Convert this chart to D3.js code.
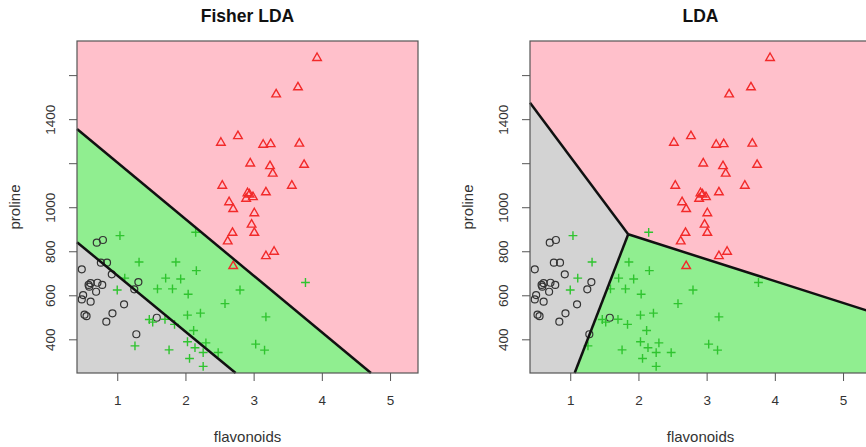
<!DOCTYPE html>
<html>
<head>
<meta charset="utf-8">
<script src="https://cdn.jsdelivr.net/npm/d3@7"></script>
<style>
  body { margin: 0; background: #fff; }
  text { font-family: "Liberation Sans", Arial, sans-serif; }
</style>
</head>
<body>
<div id="chart"></div>
<script>
// wine data: [flavonoids, proline]
var class1 = [[3.93,1680],[3.65,1547],[3.33,1515],[2.77,1325],[2.52,1295],[3.14,1286],[3.25,1289],
  [3.67,1291],[2.95,1201],[3.24,1189],[3.74,1195],[3.28,1155],[2.54,1100],[3.56,1100],[3.18,1070],
  [2.91,1066],[2.89,1041],[2.99,1048],[2.94,1060],[2.64,1025],[2.70,994],[3.01,975],[2.97,923],
  [3.01,886],[2.69,886],[2.62,847],[3.18,780],[3.30,800],[2.70,735]];
var class2 = [[1.04,871],[2.15,886],[1.32,751],[1.86,751],[2.16,712],[1.11,678],[1.71,678],[1.93,674],
  [1.00,624],[1.59,629],[1.81,629],[2.04,605],[2.58,562],[2.80,624],[3.76,658],[2.03,510],[2.22,519],
  [3.18,502],[1.47,490],[1.52,478],[1.70,491],[1.84,468],[2.12,440],[2.03,389],[2.14,362],[2.30,384],
  [2.26,340],[2.48,340],[1.26,370],[1.76,352],[3.03,378],[3.16,351],[2.06,313],[2.26,277]];
var class3 = [[0.70,839],[0.79,851],[0.76,748],[0.85,748],[0.48,718],[0.92,695],[1.31,660],[1.25,627],
  [0.58,647],[0.61,655],[0.71,657],[0.78,647],[0.59,639],[0.69,616],[0.50,601],[0.48,581],[0.61,571],
  [1.10,559],[0.93,518],[0.52,512],[0.55,505],[0.84,480],[1.58,498],[1.28,423]];

var xTicks = [1, 2, 3, 4, 5];
var yTicks = [400, 600, 800, 1000, 1200, 1400, 1600];
var yLabels = [400, 600, 800, 1000, 1400];
var xDomain = [0.41, 5.41];
var yDomain = [247, 1755];

// decision boundaries
var fisherUpper = [[0.41, 1355], [4.72, 247]];
var fisherLower = [[0.41, 841], [2.736, 247]];
var ldaCorner = [1.85, 877];
var ldaGrayPink = [0.41, 1475];
var ldaGrayGreen = [1.065, 247];
var ldaGreenPink = [5.41, 525];

var svg = d3.select("#chart").append("svg")
  .attr("width", 866).attr("height", 447);

var plotTop = 41, plotBottom = 373, pw = 341;

function panel(left, title, regions, lines) {
  var x = d3.scaleLinear().domain(xDomain).range([left, left + pw]);
  var y = d3.scaleLinear().domain(yDomain).range([plotBottom, plotTop]);
  var g = svg.append("g");

  // background = pink class
  g.append("rect")
    .attr("x", x(xDomain[0])).attr("y", y(yDomain[1]))
    .attr("width", x(xDomain[1]) - x(xDomain[0]))
    .attr("height", y(yDomain[0]) - y(yDomain[1]))
    .attr("fill", "#ffc0cb");

  var line = d3.line().x(d => x(d[0])).y(d => y(d[1]));
  regions.forEach(r => {
    g.append("path").attr("d", line(r.pts) + "Z").attr("fill", r.color);
  });

  // points
  g.selectAll(".c3").data(class3).enter().append("circle")
    .attr("cx", d => x(d[0])).attr("cy", d => y(d[1])).attr("r", 3.5)
    .attr("fill", "none").attr("stroke", "#333").attr("stroke-width", 1.2);
  g.selectAll(".c2").data(class2).enter().append("path")
    .attr("transform", d => "translate(" + x(d[0]) + "," + y(d[1]) + ")")
    .attr("d", "M-4.4,0H4.4M0,-4.4V4.4")
    .attr("stroke", "#2fc42f").attr("stroke-width", 1.4);
  g.selectAll(".c1").data(class1).enter().append("path")
    .attr("transform", d => "translate(" + x(d[0]) + "," + y(d[1]) + ")")
    .attr("d", "M0,-4.5L4.3,3L-4.3,3Z")
    .attr("fill", "none").attr("stroke", "#f22a2a").attr("stroke-width", 1.4);

  lines.forEach(l => {
    g.append("path").attr("d", line(l)).attr("fill", "none")
      .attr("stroke", "#111").attr("stroke-width", 2.5);
  });

  // box
  g.append("rect")
    .attr("x", x(xDomain[0])).attr("y", y(yDomain[1]))
    .attr("width", x(xDomain[1]) - x(xDomain[0]))
    .attr("height", y(yDomain[0]) - y(yDomain[1]))
    .attr("fill", "none").attr("stroke", "#555").attr("stroke-width", 1.2);

  // axes
  var xa = g.append("g").attr("transform", "translate(0," + plotBottom + ")")
    .call(d3.axisBottom(x).tickValues(xTicks).tickSize(8).tickPadding(14)
      .tickFormat(d3.format("d")));
  xa.select(".domain").remove();
  xa.selectAll("line").attr("stroke", "#555");
  xa.selectAll("text").attr("font-size", 13.5).attr("fill", "#333")
    .style("font-family", "'Liberation Sans', Arial, sans-serif");

  var ya = g.append("g").attr("transform", "translate(" + left + ",0)")
    .call(d3.axisLeft(y).tickValues(yTicks).tickSize(8)
      .tickFormat(d => yLabels.indexOf(d) >= 0 ? d : ""));
  ya.select(".domain").remove();
  ya.selectAll("line").attr("stroke", "#555");
  ya.selectAll("text")
    .attr("x", 0).attr("dy", null)
    .attr("transform", "translate(-22,0) rotate(-90)")
    .attr("text-anchor", "middle")
    .attr("font-size", 13.5).attr("fill", "#333")
    .style("font-family", "'Liberation Sans', Arial, sans-serif");

  svg.append("text").attr("x", left + pw / 2).attr("y", 22)
    .attr("text-anchor", "middle").attr("font-size", 17.5).attr("font-weight", "bold")
    .attr("fill", "#111").text(title);
  svg.append("text").attr("x", left + pw / 2).attr("y", 442)
    .attr("text-anchor", "middle").attr("font-size", 15).attr("fill", "#333")
    .text("flavonoids");
  svg.append("text")
    .attr("transform", "translate(" + (left - 57) + "," + (plotTop + plotBottom) / 2 + ") rotate(-90)")
    .attr("text-anchor", "middle").attr("font-size", 15).attr("fill", "#333")
    .text("proline");
}

var x0 = xDomain[0], y0 = yDomain[0], x1 = xDomain[1];

panel(77, "Fisher LDA", [
  { color: "#90ee90", pts: [fisherUpper[0], fisherUpper[1], fisherLower[1], fisherLower[0]] },
  { color: "#d3d3d3", pts: [fisherLower[0], fisherLower[1], [x0, y0]] }
], [fisherUpper, fisherLower]);

panel(530, "LDA", [
  { color: "#d3d3d3", pts: [[x0, y0], ldaGrayPink, ldaCorner, ldaGrayGreen] },
  { color: "#90ee90", pts: [ldaGrayGreen, ldaCorner, ldaGreenPink, [x1, y0]] }
], [[ldaGrayPink, ldaCorner], [ldaCorner, ldaGrayGreen], [ldaCorner, ldaGreenPink]]);
</script>
</body>
</html>
